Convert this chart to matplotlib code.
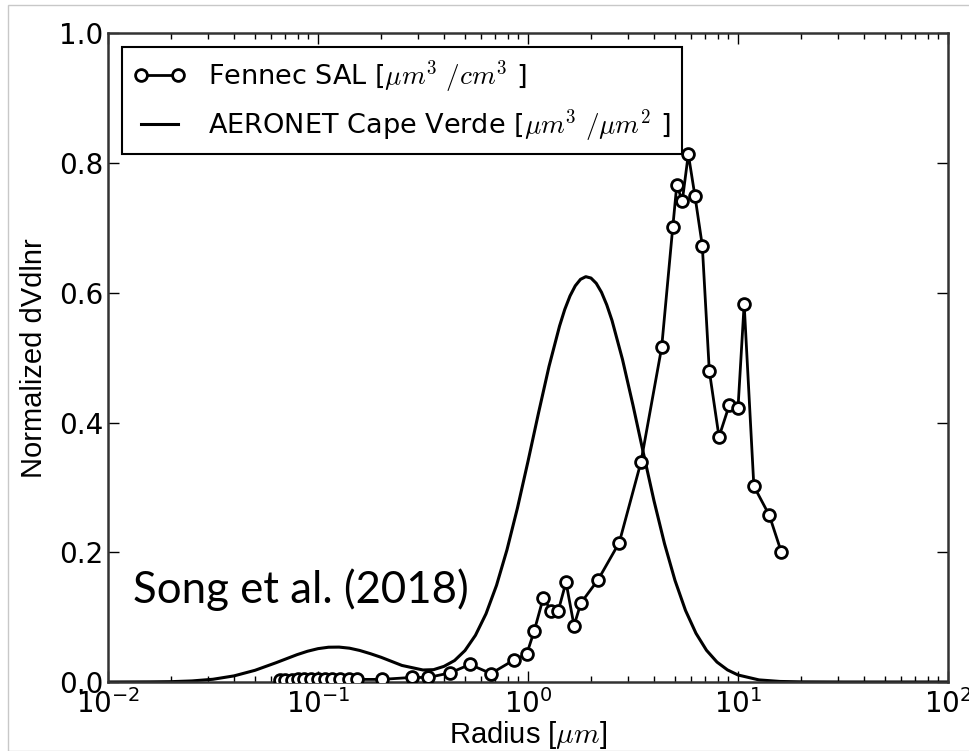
import matplotlib.pyplot as plt
from matplotlib.patches import Rectangle

# Fennec SAL size distribution
fennec_radius = [0.066, 0.070, 0.075, 0.080, 0.086, 0.093, 0.100, 0.108, 0.117, 0.127,
                 0.140, 0.153, 0.201, 0.279, 0.335, 0.425, 0.529, 0.666, 0.858, 0.986,
                 1.071, 1.183, 1.287, 1.394, 1.517, 1.656, 1.788, 2.16, 2.72, 3.45,
                 4.33, 4.89, 5.11, 5.43, 5.80, 6.24, 6.76, 7.30, 8.12, 9.09,
                 10.0, 10.7, 11.9, 14.1, 16.1]
fennec_dvdlnr = [0.003, 0.003, 0.003, 0.004, 0.004, 0.004, 0.004, 0.004, 0.004, 0.004,
                 0.004, 0.004, 0.004, 0.007, 0.007, 0.014, 0.027, 0.013, 0.034, 0.043,
                 0.079, 0.130, 0.110, 0.110, 0.154, 0.087, 0.122, 0.158, 0.215, 0.339,
                 0.516, 0.701, 0.766, 0.742, 0.814, 0.749, 0.673, 0.480, 0.378, 0.427,
                 0.422, 0.583, 0.302, 0.257, 0.200]

# AERONET Cape Verde retrieval
aeronet_radius = [0.01, 0.0126, 0.0158, 0.0200, 0.0251, 0.0316, 0.0398, 0.0501, 0.0631,
                  0.0794, 0.0891, 0.100, 0.1122, 0.126, 0.1413, 0.158, 0.1778, 0.200,
                  0.251, 0.316, 0.355, 0.398, 0.447, 0.501, 0.562, 0.631, 0.708, 0.794,
                  0.891, 1.0, 1.122, 1.259, 1.413, 1.496, 1.585, 1.679, 1.778, 1.884,
                  1.995, 2.113, 2.239, 2.371, 2.512, 2.818, 3.162, 3.548, 3.981, 4.467,
                  5.012, 5.623, 6.310, 7.079, 7.943, 8.913, 10.0, 12.59, 15.85, 19.95,
                  31.6, 100.0]
aeronet_dvdlnr = [0.0, 0.0001, 0.0002, 0.0005, 0.0016, 0.0042, 0.0094, 0.0180, 0.0297,
                  0.0421, 0.0474, 0.0514, 0.0536, 0.0538, 0.0521, 0.0486, 0.0436, 0.0380,
                  0.0255, 0.0185, 0.0190, 0.0241, 0.0331, 0.0485, 0.0720, 0.1052, 0.1490,
                  0.2038, 0.2685, 0.3403, 0.4148, 0.4866, 0.5488, 0.5744, 0.5953, 0.6109,
                  0.6209, 0.6250, 0.6229, 0.6148, 0.6009, 0.5816, 0.5575, 0.4974, 0.4268,
                  0.3522, 0.2794, 0.2133, 0.1566, 0.1104, 0.0750, 0.0489, 0.0307, 0.0186,
                  0.0108, 0.0032, 0.0008, 0.0002, 0.0, 0.0]

yticks = [0.0, 0.2, 0.4, 0.6, 0.8, 1.0]

plt.rcParams['mathtext.fontset'] = 'cm'
plt.rcParams['font.size'] = 19.5
label_font = ['Liberation Sans', 'DejaVu Sans']

fig = plt.figure(figsize=(9.69, 7.51), dpi=100)
ax = fig.add_axes([0.1115, 0.0919, 0.8668, 0.8635])

ax.plot(fennec_radius, fennec_dvdlnr, '-o', color='black', lw=2, ms=8.5, mew=2,
        mfc='white', mec='black', label=r'Fennec SAL [$\mu m^3\ /cm^3$ ]', zorder=3)
ax.plot(aeronet_radius, aeronet_dvdlnr, '-', color='black', lw=2.2,
        label=r'AERONET Cape Verde [$\mu m^3\ /\mu m^2$ ]', zorder=2)

ax.set_xscale('log')
ax.set_xlim(1e-2, 1e2)
ax.set_ylim(0, 1.0)
ax.set_yticks(yticks)
ax.set_yticklabels([f"{v:.1f}" for v in yticks])

ax.tick_params(which='both', direction='in', top=True, right=True, labelsize=20)
ax.tick_params(which='major', length=8, width=1)
ax.tick_params(which='minor', length=4, width=1)
ax.tick_params(axis='x', pad=5)
for s in ax.spines.values():
    s.set_linewidth(1.8)
    s.set_color('#333333')

ax.set_xlabel(r'Radius [$\mu m$]', family=label_font, fontsize=21, labelpad=0)
ax.set_ylabel('Normalized dVdlnr', family=label_font, fontsize=21, labelpad=8)

leg = ax.legend(loc='upper left', numpoints=2, fancybox=False, framealpha=1,
                edgecolor='black', fontsize=19.5, borderaxespad=0.5,
                labelspacing=0.45, handlelength=2.0)
leg.get_frame().set_linewidth(1.5)

ax.text(0.03, 0.122, 'Song et al. (2018)', transform=ax.transAxes,
        family=['Lato', 'DejaVu Sans'], fontsize=31.5, va='baseline', ha='left')

fig.patches.append(Rectangle((8 / 969, 0), 1, 1 - 5 / 751, transform=fig.transFigure,
                             fill=False, edgecolor='#c8c8c8', lw=1))

fig.savefig('out.png', dpi=100)
